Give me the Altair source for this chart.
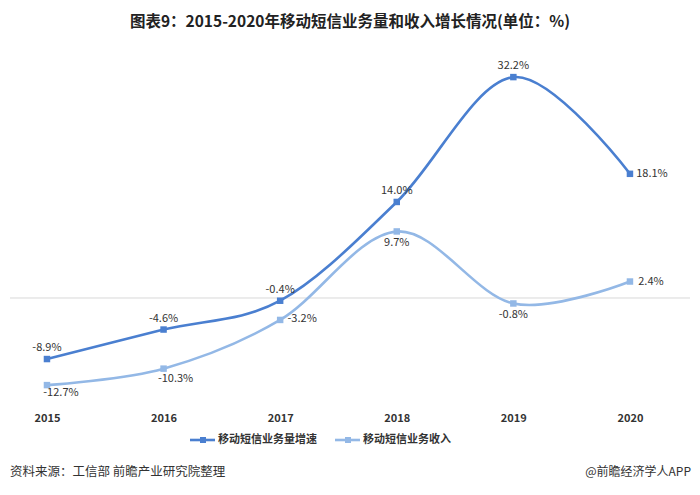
import altair as alt
import pandas as pd

years = [2015, 2016, 2017, 2018, 2019, 2020]
volume_growth = [-8.9, -4.6, -0.4, 14.0, 32.2, 18.1]
revenue_growth = [-12.7, -10.3, -3.2, 9.7, -0.8, 2.4]
series_names = ["移动短信业务量增速", "移动短信业务收入"]
colors = ["#4a7fd0", "#93b8e6"]

title_text = "图表9：2015-2020年移动短信业务量和收入增长情况(单位：%)"
source_text = "资料来源：工信部 前瞻产业研究院整理"
credit_text = "@前瞻经济学人APP"

FONT = "Noto Sans CJK SC"

df = pd.DataFrame({
    "year": years * 2,
    "value": volume_growth + revenue_growth,
    "series": [series_names[0]] * 6 + [series_names[1]] * 6,
    "sid": [0] * 6 + [1] * 6,
})
df["label"] = df["value"].map(lambda v: f"{v:.1f}%")

x = alt.X("year:Q", scale=alt.Scale(domain=[2014.683, 2020.515], nice=False, zero=False),
          axis=alt.Axis(values=years, format="d", title=None, domain=False, ticks=False, grid=False,
                        labelFont=FONT, labelFontSize=11, labelFontWeight="bold", labelColor="#333333",
                        labelPadding=7))
y = alt.Y("value:Q", scale=alt.Scale(domain=[-15.6, 36.15], nice=False, zero=False), axis=None)
col = alt.Color("series:N", scale=alt.Scale(domain=series_names, range=colors), legend=None)

base = alt.Chart(df)

zero = alt.Chart(pd.DataFrame({"v": [0]})).mark_rule(color="#d9d9d9", strokeWidth=1).encode(
    y=alt.Y("v:Q", scale=alt.Scale(domain=[-15.6, 36.15], nice=False, zero=False), axis=None),
    x=alt.value(0), x2=alt.value(680))

lines = base.mark_line(interpolate="cardinal", strokeWidth=2.6).encode(x=x, y=y, color=col, order="year:Q")
points = base.mark_square(size=42, opacity=1).encode(x=x, y=y, color=col)

def labels(sid, yrs, **kw):
    cond = f"datum.sid == {sid} && indexof({yrs}, datum.year) >= 0"
    return base.transform_filter(cond).mark_text(
        font=FONT, fontSize=11, color="#333333", **kw).encode(x=x, y=y, text="label:N")

lab = [
    labels(0, [2015, 2016, 2017, 2018, 2019], dy=-11, baseline="middle"),
    labels(0, [2020], dx=22, baseline="middle"),
    labels(1, [2015], dx=14, dy=8, baseline="middle"),
    labels(1, [2016], dx=12, dy=10, baseline="middle"),
    labels(1, [2017], dx=22, dy=-1, baseline="middle"),
    labels(1, [2018, 2019], dy=12, baseline="middle"),
    labels(1, [2020], dx=21, baseline="middle"),
]

def txt(t, xv, yv, **kw):
    return alt.Chart(pd.DataFrame({"t": [t]})).mark_text(font=FONT, **kw).encode(
        x=alt.value(xv), y=alt.value(yv), text="t:N")

title = txt(title_text, 340, -28, fontSize=15.5, fontWeight="bold", color="#222222", align="center", baseline="middle")
source = txt(source_text, 0, 422, fontSize=12.5, color="#333333", align="left", baseline="middle")
credit = txt(credit_text, 681, 422, fontSize=12, color="#333333", align="right", baseline="middle")

def legend_item(i, x0):
    seg = alt.Chart(pd.DataFrame({"s": [series_names[i]]})).mark_rule(color=colors[i], strokeWidth=2.6).encode(
        x=alt.value(x0), x2=alt.value(x0 + 25), y=alt.value(390))
    sq = alt.Chart(pd.DataFrame({"s": [series_names[i]]})).mark_square(color=colors[i], size=36, opacity=1).encode(
        x=alt.value(x0 + 13), y=alt.value(390))
    t = txt(series_names[i], x0 + 28, 390, fontSize=11, fontWeight="bold", color="#333333", align="left", baseline="middle")
    return [seg, sq, t]

leg = legend_item(0, 180) + legend_item(1, 325)

chart = alt.layer(zero, lines, points, *lab, title, source, credit, *leg).properties(
    width=680, height=355,
    background="white",
    autosize=alt.AutoSizeParams(type="none"),
    padding={"left": 2, "top": 42, "right": 2, "bottom": 80},
).configure_view(strokeWidth=0, stroke="transparent")

chart.save("out.html", embed_options={"renderer": "svg", "actions": False})
